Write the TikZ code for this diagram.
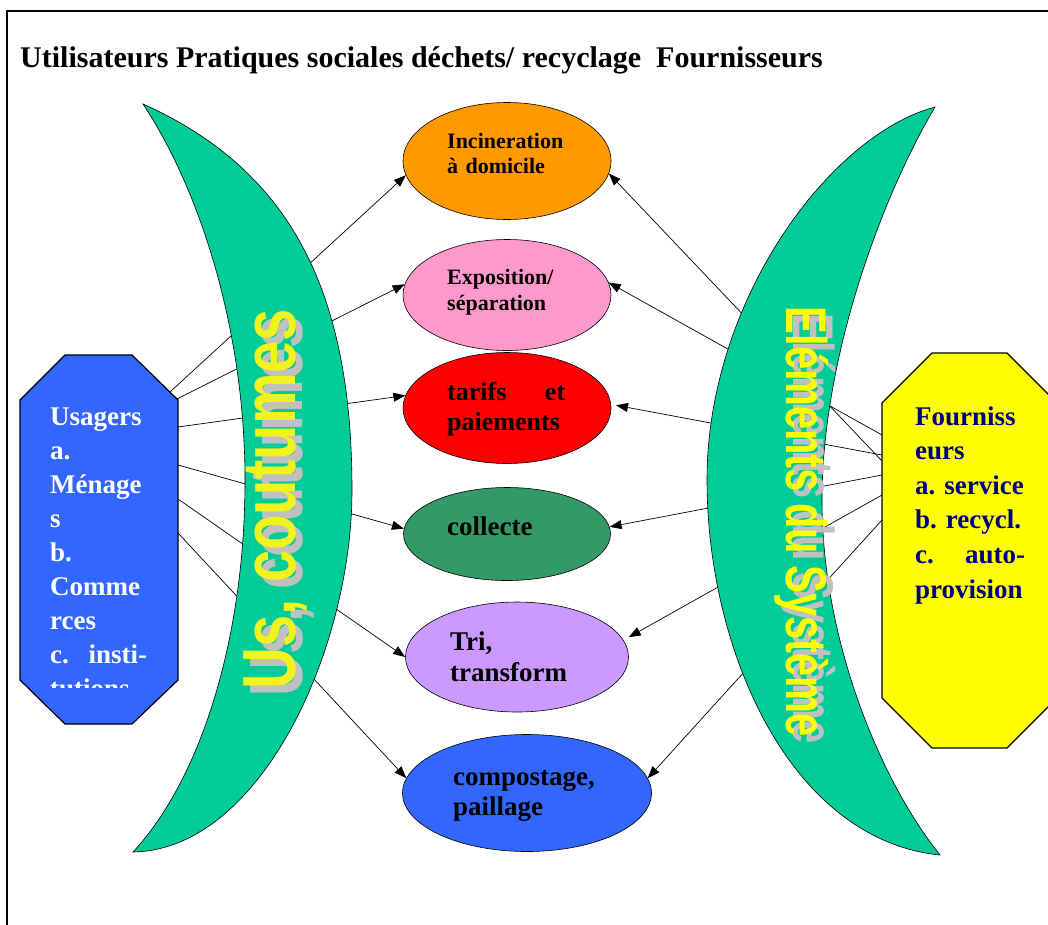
\documentclass[tikz,border=0pt]{standalone}
\usepackage{fontspec}
\setmainfont{Liberation Serif}
\newfontfamily\arialfont{Liberation Sans}
\usetikzlibrary{shapes.geometric,arrows.meta}

\definecolor{moongreen}{HTML}{00CC99}
\definecolor{incinorange}{HTML}{FF9900}
\definecolor{expopink}{HTML}{FF99CC}
\definecolor{tarifred}{HTML}{FF0000}
\definecolor{collgreen}{HTML}{339966}
\definecolor{trililac}{HTML}{CC99FF}
\definecolor{compblue}{HTML}{3366FF}
\definecolor{fournyellow}{HTML}{FFFF00}
\definecolor{fournnavy}{HTML}{000080}
\definecolor{shadowgray}{HTML}{C0C0C0}
\definecolor{usyellow}{HTML}{F2F21E}

\begin{document}
\begin{tikzpicture}[x=1pt, y=-1pt,
    link/.style={-{Triangle[length=12pt,width=9pt]}, line width=0.7pt},
    bubble/.style={ellipse, draw, line width=0.6pt, inner sep=0pt},
    moon/.style={fill=moongreen, draw, line width=0.6pt},
    octo/.style={draw, line width=1.2pt},
    words/.style={inner sep=0pt, anchor=base west, align=left,
        execute at begin node={\hyphenpenalty=10000\exhyphenpenalty=10000\frenchspacing}}]

\clip (0,0) rectangle (1048,924);
\draw[line width=2pt] (7,940) -- (7,11) -- (1060,11);

\node[words, font=\bfseries\fontsize{30}{36}\selectfont] (title) at (20,67)
    {Utilisateurs Pratiques sociales déchets/ recyclage\ \ Fournisseurs};

% les six pratiques
\node[bubble, fill=incinorange, minimum width=208pt, minimum height=117pt] (incin) at (507,161) {};
\node[bubble, fill=expopink, minimum width=208pt, minimum height=111pt] (expo) at (507,295) {};
\node[bubble, fill=tarifred, minimum width=208pt, minimum height=111pt] (tarif) at (507,408) {};
\node[bubble, fill=collgreen, minimum width=207pt, minimum height=93pt] (coll) at (507,534) {};
\node[bubble, fill=trililac, minimum width=223pt, minimum height=110pt] (tri) at (517,657) {};
\node[bubble, fill=compblue, minimum width=249pt, minimum height=117pt] (compo) at (527,793) {};

\node[words, text width=140pt, font=\bfseries\fontsize{22}{25}\selectfont] (incintxt) at (447,148) {Incineration\\à domicile};
\node[words, text width=140pt, font=\bfseries\fontsize{22}{26}\selectfont] (expotxt) at (447,284) {Exposition/\\séparation};
\node[words, text width=118pt, font=\bfseries\fontsize{26}{30}\selectfont] (tariftxt) at (447,400) {tarifs\hfill et\\paiements};
\node[words, text width=140pt, font=\bfseries\fontsize{27}{31}\selectfont] (colltxt) at (447,535) {collecte};
\node[words, text width=140pt, font=\bfseries\fontsize{27}{31}\selectfont] (tritxt) at (450,650) {Tri,\\transform};
\node[words, text width=170pt, font=\bfseries\fontsize{27}{30}\selectfont] (compotxt) at (453,785) {compostage,\\paillage};

% octogones
\draw[octo, fill=compblue] (65,355) -- (132,355) -- (178,400) -- (178,680) -- (132,724)
    -- (65,724) -- (20,680) -- (20,400) -- cycle;
\draw[octo, fill=fournyellow] (932,353) -- (1007,353) -- (1057,403) -- (1057,698) -- (1007,748)
    -- (932,748) -- (882,698) -- (882,403) -- cycle;

\coordinate (u1) at (170,392);
\coordinate (u2) at (177,399);
\coordinate (u3) at (178,427);
\coordinate (u4) at (178,465);
\coordinate (u5) at (178,499);
\coordinate (u6) at (178,533);
\coordinate (f1) at (882,461);
\coordinate (f2) at (882,435);
\coordinate (f3) at (882,455);
\coordinate (f4) at (882,475);
\coordinate (f5) at (882,495);
\coordinate (f6) at (882,520);

\draw[link] (u1) -- (incin.188);
\draw[link] (u2) -- (expo.174);
\draw[link] (u3) -- (tarif.173);
\draw[link] (u4) -- (coll.177);
\draw[link] (u5) -- (tri.180);
\draw[link] (u6) -- (compo.173);
\draw[link] (f1) -- (incin.353);
\draw[link] (f2) -- (expo.7);
\draw[link, shorten >=5pt] (f3) -- (tarif.2);
\draw[link] (f4) -- (coll.4);
\draw[link, shorten >=6pt] (f5) -- (tri.9);
\draw[link] (f6) -- (compo.7);

% croissants
\draw[moon] (143,104) .. controls (290,170) and (352,290) .. (352,490)
    .. controls (352,650) and (260,850) .. (133,852)
    .. controls (200,780) and (245,640) .. (245,480)
    .. controls (245,330) and (200,190) .. cycle;
\draw[moon] (935,107) .. controls (830,135) and (707,300) .. (707,480)
    .. controls (707,650) and (790,840) .. (940,855)
    .. controls (880,780) and (822,640) .. (822,500)
    .. controls (822,360) and (880,200) .. cycle;

\node[rotate=90, inner sep=0pt, text=shadowgray, font=\arialfont\bfseries\fontsize{58}{60}\selectfont]
    (usshadow) at (282,506) {\scalebox{1}[1.3]{Us, coutumes}};
\node[rotate=90, inner sep=0pt, text=usyellow, font=\arialfont\bfseries\fontsize{58}{60}\selectfont]
    (us) at (275,499) {\scalebox{1}[1.3]{Us, coutumes}};
\node[rotate=-90, inner sep=0pt, text=shadowgray, font=\arialfont\bfseries\fontsize{41.6}{44}\selectfont]
    (elemshadow) at (809,529) {\scalebox{1}[1.38]{Eléments du Système}};
\node[rotate=-90, inner sep=0pt, text=fournyellow, font=\arialfont\bfseries\fontsize{41.6}{44}\selectfont]
    (elem) at (802,522) {\scalebox{1}[1.38]{Eléments du Système}};

% textes des octogones
\begin{scope}
  \clip (20,350) rectangle (178,687);
  \node[words, text=white, text width=97pt, font=\bfseries\fontsize{27}{34}\selectfont] (usagers) at (50,425)
      {Usagers\\a.\\Ménage\\s\\b.\\Comme\\rces\\c.\hfill insti-\\tutions};
\end{scope}
\node[words, text=fournnavy, text width=110pt, font=\bfseries\fontsize{27}{34.6}\selectfont] (fourn) at (915,425)
    {Fourniss\\eurs\\a. service\\b. recycl.\\c.\hfill auto-\\provision};

\end{tikzpicture}
\end{document}
